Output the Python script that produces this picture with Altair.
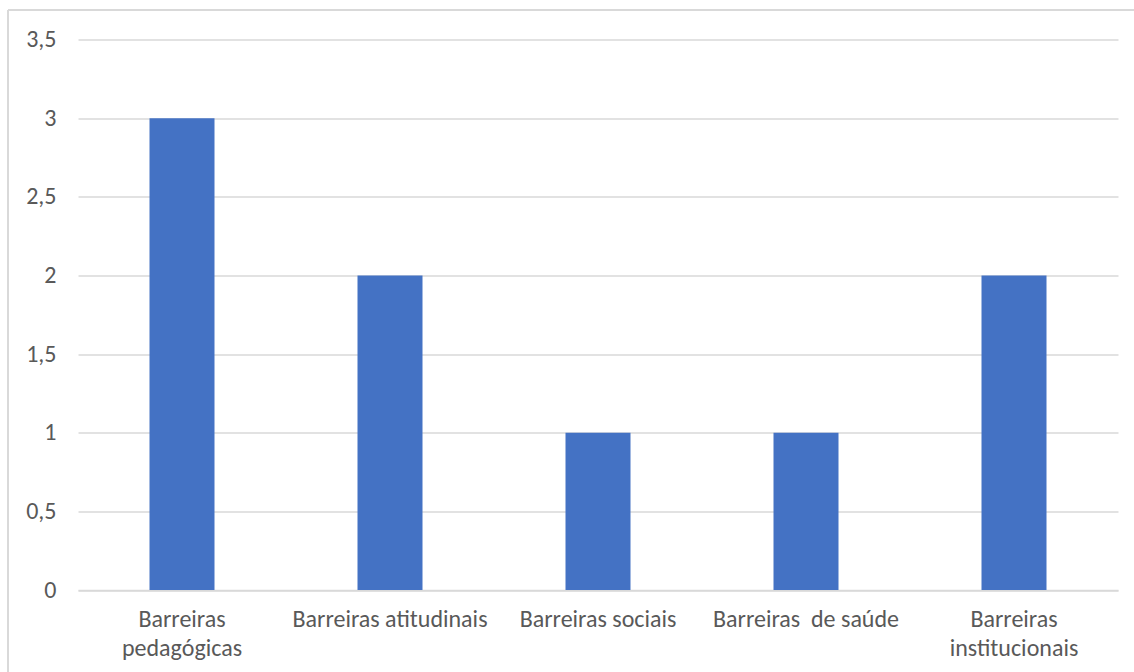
import altair as alt
import pandas as pd

# Number of barriers reported per category
CATEGORIES = [
    "Barreiras pedagógicas",
    "Barreiras atitudinais",
    "Barreiras sociais",
    "Barreiras\u00a0 de saúde",
    "Barreiras institucionais",
]
VALUES = [3, 2, 1, 1, 2]
Y_TICKS = [0, 0.5, 1, 1.5, 2, 2.5, 3, 3.5]
WRAPPED = ["Barreiras pedagógicas", "Barreiras institucionais"]

df = pd.DataFrame({"categoria": CATEGORIES, "valor": VALUES})

FONT = "Carlito, Lato, sans-serif"
TEXT_COLOR = "#595959"
GRID_COLOR = "#D9D9D9"

wrapped_list = "[" + ",".join("'" + w + "'" for w in WRAPPED) + "]"
x_label_expr = f"indexof({wrapped_list}, datum.label) >= 0 ? split(datum.label, ' ') : datum.label"

bars = alt.Chart(df).mark_bar(
    color="#4472C4", width=alt.RelativeBandSize(0.3125)
).encode(
    x=alt.X(
        "categoria:N",
        sort=CATEGORIES,
        title=None,
        scale=alt.Scale(paddingInner=0, paddingOuter=0),
        axis=alt.Axis(
            labelAngle=0,
            labelExpr=x_label_expr,
            labelFont=FONT,
            labelFontSize=24,
            labelColor=TEXT_COLOR,
            labelPadding=17,
            labelLineHeight=29,
            labelLimit=400,
            ticks=False,
            domainColor=GRID_COLOR,
            domainWidth=1.5,
            grid=False,
        ),
    ),
    y=alt.Y(
        "valor:Q",
        title=None,
        scale=alt.Scale(domain=[0, 3.5], nice=False),
        axis=alt.Axis(
            values=Y_TICKS,
            labelExpr="replace(format(datum.value, '.1~f'), '.', ',')",
            labelFont=FONT,
            labelFontSize=24,
            labelColor=TEXT_COLOR,
            labelPadding=22,
            ticks=False,
            domain=False,
            gridColor=GRID_COLOR,
            gridWidth=1.5,
        ),
    ),
)

# Thin frame around the chart area (top and left edges)
frame_top = alt.Chart(df).mark_rule(color=GRID_COLOR, strokeWidth=2).encode(
    x=alt.value(-70), x2=alt.value(1200), y=alt.value(-29.5)
)
frame_left = alt.Chart(df).mark_rule(color=GRID_COLOR, strokeWidth=2).encode(
    x=alt.value(-70), y=alt.value(-29.5), y2=alt.value(700)
)

chart = alt.layer(bars, frame_top, frame_left).properties(
    width=1040,
    height=550.5,
    autosize=alt.AutoSizeParams(type="none"),
    padding={"left": 78, "top": 39.5, "right": 16, "bottom": 82},
    background="white",
).configure_view(stroke=None)

chart.save("out.html", embed_options={"renderer": "svg", "actions": False})
